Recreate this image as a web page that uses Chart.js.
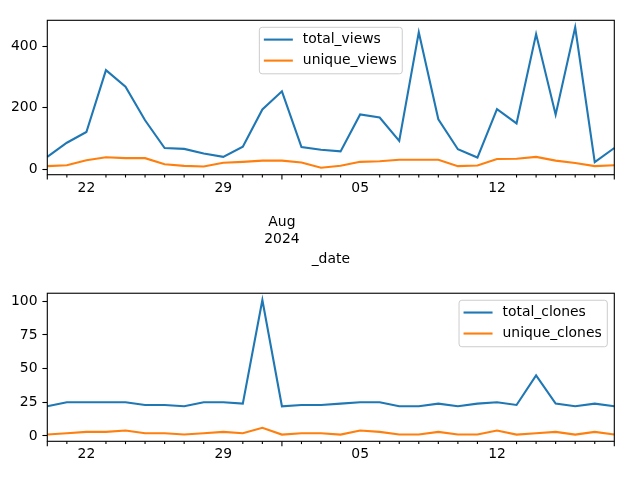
<!DOCTYPE html>
<html>
<head>
<meta charset="utf-8">
<script src="https://cdn.jsdelivr.net/npm/chart.js@4.4.1/dist/chart.umd.min.js"></script>
<style>
  html, body { margin: 0; padding: 0; background: #fff; }
  #wrap { position: relative; width: 640px; height: 480px; }
  canvas { position: absolute; left: 0; }
</style>
</head>
<body>
<div id="wrap">
  <canvas id="views" width="640" height="280" style="top:0"></canvas>
  <canvas id="clones" width="640" height="200" style="top:280px"></canvas>
</div>
<script>
const dates = [
  '2024-07-20', '2024-07-21', '2024-07-22', '2024-07-23', '2024-07-24', '2024-07-25',
  '2024-07-26', '2024-07-27', '2024-07-28', '2024-07-29', '2024-07-30', '2024-07-31',
  '2024-08-01', '2024-08-02', '2024-08-03', '2024-08-04', '2024-08-05', '2024-08-06',
  '2024-08-07', '2024-08-08', '2024-08-09', '2024-08-10', '2024-08-11', '2024-08-12',
  '2024-08-13', '2024-08-14', '2024-08-15', '2024-08-16', '2024-08-17', '2024-08-18'
];
const totalViews = [40, 86, 121, 322, 268, 159, 69, 66, 51, 40, 73, 194, 253, 72, 63,
                    58, 178, 168, 92, 445, 162, 65, 38, 195, 149, 439, 177, 461, 23, 69];
const uniqueViews = [10, 13, 29, 39, 36, 36, 16, 11, 9, 21, 24, 28, 28, 22, 5,
                     11, 24, 26, 31, 31, 31, 10, 12, 33, 34, 40, 28, 20, 10, 13];
const totalClones = [22, 25, 25, 25, 25, 23, 23, 22, 25, 25, 24, 101, 22, 23, 23,
                     24, 25, 25, 22, 22, 24, 22, 24, 25, 23, 45, 24, 22, 24, 22];
const uniqueClones = [1, 2, 3, 3, 4, 2, 2, 1, 2, 3, 2, 6, 1, 2, 2,
                      1, 4, 3, 1, 1, 3, 1, 1, 4, 1, 2, 3, 1, 3, 1];

const viewsTicks = [0, 200, 400];
const clonesTicks = [0, 25, 50, 75, 100];
const weekTickDates = ['2024-07-22', '2024-07-29', '2024-08-05', '2024-08-12'];
const weekTickText = ['22', '29', '05', '12'];
const monthTickDate = '2024-08-01';
const monthTickText = ['Aug', '2024'];

const blue = '#1f77b4';
const orange = '#ff7f0e';
const fontFamily = 'DejaVu Sans';
const font = { family: fontFamily, size: 13.9 };

function padRange(arrs) {
  const all = [].concat(...arrs);
  const lo = Math.min(...all), hi = Math.max(...all);
  const m = (hi - lo) * 0.05;
  return { min: lo - m, max: hi + m };
}

function tickLabel(i, withMonth) {
  const d = dates[i];
  const k = weekTickDates.indexOf(d);
  if (k >= 0) return weekTickText[k];
  if (withMonth && d === monthTickDate) return ['', '', ...monthTickText];
  return '';
}

// axes frame plus daily x tick marks (long at ends and month start)
const framePlugin = {
  id: 'frame',
  afterDraw(chart) {
    const { ctx, chartArea: a } = chart;
    const x = chart.scales.x;
    ctx.save();
    ctx.strokeStyle = '#000';
    ctx.lineWidth = 1.1;
    ctx.strokeRect(a.left, a.top, a.right - a.left, a.bottom - a.top);
    dates.forEach((d, i) => {
      if (weekTickDates.includes(d)) return;
      const long = i === 0 || i === dates.length - 1 || d === monthTickDate;
      const px = x.getPixelForValue(i);
      ctx.beginPath();
      ctx.moveTo(px, a.bottom);
      ctx.lineTo(px, a.bottom + (long ? 4.9 : 2.8));
      ctx.stroke();
    });
    ctx.restore();
  }
};

// matplotlib style framed legend
const boxLegend = {
  id: 'boxLegend',
  afterDraw(chart, args, opts) {
    const { ctx, chartArea: a } = chart;
    const sets = chart.data.datasets;
    ctx.save();
    ctx.font = '13.9px "' + fontFamily + '"';
    const textW = Math.max(...sets.map(s => ctx.measureText(s.label).width));
    const w = 43.5 + textW + 5.6;
    const h = 46.5;
    const left = opts.align === 'right' ? a.right - 7 - w : (a.left + a.right) / 2 - w / 2;
    const top = a.top + 7;
    ctx.beginPath();
    ctx.roundRect(left, top, w, h, 2.8);
    ctx.fillStyle = 'rgba(255,255,255,0.8)';
    ctx.fill();
    ctx.strokeStyle = '#cccccc';
    ctx.lineWidth = 1;
    ctx.stroke();
    sets.forEach((s, i) => {
      const y = top + 12.3 + i * 21;
      ctx.beginPath();
      ctx.moveTo(left + 4.5, y);
      ctx.lineTo(left + 33.5, y);
      ctx.strokeStyle = s.borderColor;
      ctx.lineWidth = 2.1;
      ctx.stroke();
      ctx.fillStyle = '#000';
      ctx.textBaseline = 'middle';
      ctx.textAlign = 'left';
      ctx.fillText(s.label, left + 43.5, y);
    });
    ctx.restore();
  }
};

function makeChart(id, labels, values, yTicks, opt) {
  const range = padRange(values);
  return new Chart(document.getElementById(id), {
    type: 'line',
    data: {
      labels: dates,
      datasets: labels.map((l, i) => ({
        label: l,
        data: values[i],
        borderColor: i === 0 ? blue : orange,
        backgroundColor: i === 0 ? blue : orange,
        borderWidth: 2.1,
        pointRadius: 0,
        tension: 0,
        fill: false
      }))
    },
    options: {
      responsive: false,
      animation: false,
      devicePixelRatio: 1,
      layout: { padding: { left: 0, right: 25.7, top: opt.top, bottom: 0 } },
      plugins: {
        legend: { display: false },
        tooltip: { enabled: false },
        boxLegend: { align: opt.legendAlign }
      },
      scales: {
        x: {
          type: 'category',
          offset: false,
          grid: { display: false, drawTicks: false, tickLength: 0 },
          border: { display: false },
          afterFit: s => { s.height = opt.xHeight; },
          ticks: {
            autoSkip: false,
            maxRotation: 0,
            color: '#000',
            padding: 5,
            font: { family: fontFamily, size: 13.9, lineHeight: 1.22 },
            callback: (v, i) => tickLabel(i, opt.withMonth)
          },
          title: {
            display: opt.withMonth,
            text: '_date',
            color: '#000',
            font: font,
            padding: { top: 0, bottom: 12.5 }
          }
        },
        y: {
          min: range.min,
          max: range.max,
          afterBuildTicks: s => { s.ticks = yTicks.map(v => ({ value: v })); },
          afterFit: s => { s.width = 47.3; },
          grid: { drawOnChartArea: false, tickLength: 4.9, tickColor: '#000', tickWidth: 1.1 },
          border: { display: false },
          ticks: { color: '#000', padding: 4.9, font: font }
        }
      }
    },
    plugins: [framePlugin, boxLegend]
  });
}

makeChart('views', ['total_views', 'unique_views'], [totalViews, uniqueViews], viewsTicks,
  { top: 20.3, xHeight: 105.3, withMonth: true, legendAlign: 'center' });
makeChart('clones', ['total_clones', 'unique_clones'], [totalClones, uniqueClones], clonesTicks,
  { top: 7.3, xHeight: 38.7, withMonth: false, legendAlign: 'right' });
</script>
</body>
</html>
